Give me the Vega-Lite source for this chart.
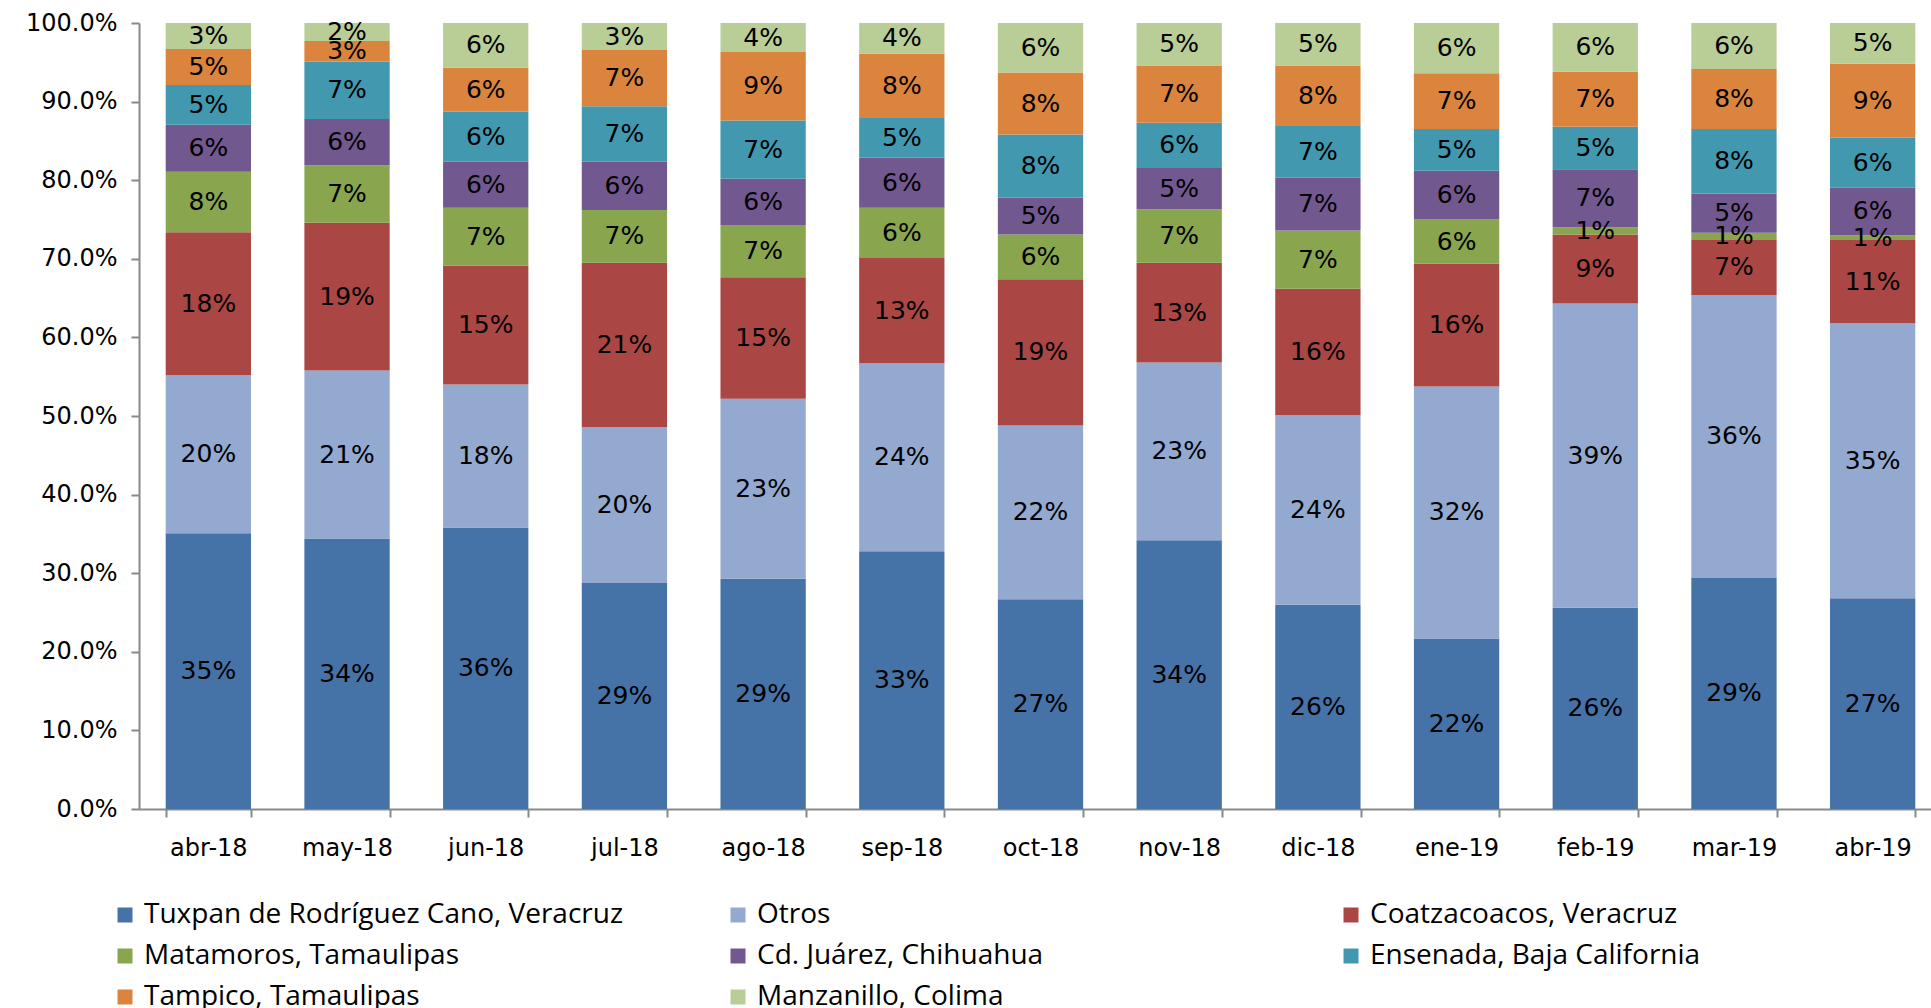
{
  "$schema": "https://vega.github.io/schema/vega-lite/v6.json",
  "width": 1792,
  "height": 786,
  "autosize": "none",
  "padding": {"left": 139, "top": 23, "right": 0, "bottom": 199},
  "background": "white",
  "config": {"view": {"stroke": null}, "font": "DejaVu Sans"},
  "datasets": {
    "series": [
      {"puerto": "Tuxpan de Rodríguez Cano, Veracruz", "orden": 1},
      {"puerto": "Otros", "orden": 2},
      {"puerto": "Coatzacoacos, Veracruz", "orden": 3},
      {"puerto": "Matamoros, Tamaulipas", "orden": 4},
      {"puerto": "Cd. Juárez, Chihuahua", "orden": 5},
      {"puerto": "Ensenada, Baja California", "orden": 6},
      {"puerto": "Tampico, Tamaulipas", "orden": 7},
      {"puerto": "Manzanillo, Colima", "orden": 8}
    ]
  },
  "data": {"values": [
    {"mes": "abr-18", "puerto": "Tuxpan de Rodríguez Cano, Veracruz", "v": 0.351},
    {"mes": "abr-18", "puerto": "Otros", "v": 0.201},
    {"mes": "abr-18", "puerto": "Coatzacoacos, Veracruz", "v": 0.182},
    {"mes": "abr-18", "puerto": "Matamoros, Tamaulipas", "v": 0.077},
    {"mes": "abr-18", "puerto": "Cd. Juárez, Chihuahua", "v": 0.060},
    {"mes": "abr-18", "puerto": "Ensenada, Baja California", "v": 0.0505},
    {"mes": "abr-18", "puerto": "Tampico, Tamaulipas", "v": 0.046},
    {"mes": "abr-18", "puerto": "Manzanillo, Colima", "v": 0.033},

    {"mes": "may-18", "puerto": "Tuxpan de Rodríguez Cano, Veracruz", "v": 0.344},
    {"mes": "may-18", "puerto": "Otros", "v": 0.214},
    {"mes": "may-18", "puerto": "Coatzacoacos, Veracruz", "v": 0.188},
    {"mes": "may-18", "puerto": "Matamoros, Tamaulipas", "v": 0.073},
    {"mes": "may-18", "puerto": "Cd. Juárez, Chihuahua", "v": 0.059},
    {"mes": "may-18", "puerto": "Ensenada, Baja California", "v": 0.073},
    {"mes": "may-18", "puerto": "Tampico, Tamaulipas", "v": 0.026},
    {"mes": "may-18", "puerto": "Manzanillo, Colima", "v": 0.023},

    {"mes": "jun-18", "puerto": "Tuxpan de Rodríguez Cano, Veracruz", "v": 0.358},
    {"mes": "jun-18", "puerto": "Otros", "v": 0.182},
    {"mes": "jun-18", "puerto": "Coatzacoacos, Veracruz", "v": 0.151},
    {"mes": "jun-18", "puerto": "Matamoros, Tamaulipas", "v": 0.074},
    {"mes": "jun-18", "puerto": "Cd. Juárez, Chihuahua", "v": 0.0585},
    {"mes": "jun-18", "puerto": "Ensenada, Baja California", "v": 0.064},
    {"mes": "jun-18", "puerto": "Tampico, Tamaulipas", "v": 0.0555},
    {"mes": "jun-18", "puerto": "Manzanillo, Colima", "v": 0.057},

    {"mes": "jul-18", "puerto": "Tuxpan de Rodríguez Cano, Veracruz", "v": 0.2875},
    {"mes": "jul-18", "puerto": "Otros", "v": 0.1985},
    {"mes": "jul-18", "puerto": "Coatzacoacos, Veracruz", "v": 0.209},
    {"mes": "jul-18", "puerto": "Matamoros, Tamaulipas", "v": 0.067},
    {"mes": "jul-18", "puerto": "Cd. Juárez, Chihuahua", "v": 0.0615},
    {"mes": "jul-18", "puerto": "Ensenada, Baja California", "v": 0.0705},
    {"mes": "jul-18", "puerto": "Tampico, Tamaulipas", "v": 0.0715},
    {"mes": "jul-18", "puerto": "Manzanillo, Colima", "v": 0.0345},

    {"mes": "ago-18", "puerto": "Tuxpan de Rodríguez Cano, Veracruz", "v": 0.293},
    {"mes": "ago-18", "puerto": "Otros", "v": 0.229},
    {"mes": "ago-18", "puerto": "Coatzacoacos, Veracruz", "v": 0.1545},
    {"mes": "ago-18", "puerto": "Matamoros, Tamaulipas", "v": 0.0665},
    {"mes": "ago-18", "puerto": "Cd. Juárez, Chihuahua", "v": 0.059},
    {"mes": "ago-18", "puerto": "Ensenada, Baja California", "v": 0.074},
    {"mes": "ago-18", "puerto": "Tampico, Tamaulipas", "v": 0.087},
    {"mes": "ago-18", "puerto": "Manzanillo, Colima", "v": 0.037},

    {"mes": "sep-18", "puerto": "Tuxpan de Rodríguez Cano, Veracruz", "v": 0.328},
    {"mes": "sep-18", "puerto": "Otros", "v": 0.239},
    {"mes": "sep-18", "puerto": "Coatzacoacos, Veracruz", "v": 0.134},
    {"mes": "sep-18", "puerto": "Matamoros, Tamaulipas", "v": 0.064},
    {"mes": "sep-18", "puerto": "Cd. Juárez, Chihuahua", "v": 0.064},
    {"mes": "sep-18", "puerto": "Ensenada, Baja California", "v": 0.050},
    {"mes": "sep-18", "puerto": "Tampico, Tamaulipas", "v": 0.082},
    {"mes": "sep-18", "puerto": "Manzanillo, Colima", "v": 0.039},

    {"mes": "oct-18", "puerto": "Tuxpan de Rodríguez Cano, Veracruz", "v": 0.267},
    {"mes": "oct-18", "puerto": "Otros", "v": 0.221},
    {"mes": "oct-18", "puerto": "Coatzacoacos, Veracruz", "v": 0.186},
    {"mes": "oct-18", "puerto": "Matamoros, Tamaulipas", "v": 0.057},
    {"mes": "oct-18", "puerto": "Cd. Juárez, Chihuahua", "v": 0.047},
    {"mes": "oct-18", "puerto": "Ensenada, Baja California", "v": 0.080},
    {"mes": "oct-18", "puerto": "Tampico, Tamaulipas", "v": 0.079},
    {"mes": "oct-18", "puerto": "Manzanillo, Colima", "v": 0.063},

    {"mes": "nov-18", "puerto": "Tuxpan de Rodríguez Cano, Veracruz", "v": 0.342},
    {"mes": "nov-18", "puerto": "Otros", "v": 0.226},
    {"mes": "nov-18", "puerto": "Coatzacoacos, Veracruz", "v": 0.127},
    {"mes": "nov-18", "puerto": "Matamoros, Tamaulipas", "v": 0.068},
    {"mes": "nov-18", "puerto": "Cd. Juárez, Chihuahua", "v": 0.0525},
    {"mes": "nov-18", "puerto": "Ensenada, Baja California", "v": 0.0575},
    {"mes": "nov-18", "puerto": "Tampico, Tamaulipas", "v": 0.073},
    {"mes": "nov-18", "puerto": "Manzanillo, Colima", "v": 0.054},

    {"mes": "dic-18", "puerto": "Tuxpan de Rodríguez Cano, Veracruz", "v": 0.260},
    {"mes": "dic-18", "puerto": "Otros", "v": 0.241},
    {"mes": "dic-18", "puerto": "Coatzacoacos, Veracruz", "v": 0.161},
    {"mes": "dic-18", "puerto": "Matamoros, Tamaulipas", "v": 0.074},
    {"mes": "dic-18", "puerto": "Cd. Juárez, Chihuahua", "v": 0.067},
    {"mes": "dic-18", "puerto": "Ensenada, Baja California", "v": 0.066},
    {"mes": "dic-18", "puerto": "Tampico, Tamaulipas", "v": 0.077},
    {"mes": "dic-18", "puerto": "Manzanillo, Colima", "v": 0.054},

    {"mes": "ene-19", "puerto": "Tuxpan de Rodríguez Cano, Veracruz", "v": 0.217},
    {"mes": "ene-19", "puerto": "Otros", "v": 0.3205},
    {"mes": "ene-19", "puerto": "Coatzacoacos, Veracruz", "v": 0.1565},
    {"mes": "ene-19", "puerto": "Matamoros, Tamaulipas", "v": 0.056},
    {"mes": "ene-19", "puerto": "Cd. Juárez, Chihuahua", "v": 0.062},
    {"mes": "ene-19", "puerto": "Ensenada, Baja California", "v": 0.053},
    {"mes": "ene-19", "puerto": "Tampico, Tamaulipas", "v": 0.071},
    {"mes": "ene-19", "puerto": "Manzanillo, Colima", "v": 0.064},

    {"mes": "feb-19", "puerto": "Tuxpan de Rodríguez Cano, Veracruz", "v": 0.256},
    {"mes": "feb-19", "puerto": "Otros", "v": 0.387},
    {"mes": "feb-19", "puerto": "Coatzacoacos, Veracruz", "v": 0.088},
    {"mes": "feb-19", "puerto": "Matamoros, Tamaulipas", "v": 0.009},
    {"mes": "feb-19", "puerto": "Cd. Juárez, Chihuahua", "v": 0.074},
    {"mes": "feb-19", "puerto": "Ensenada, Baja California", "v": 0.054},
    {"mes": "feb-19", "puerto": "Tampico, Tamaulipas", "v": 0.070},
    {"mes": "feb-19", "puerto": "Manzanillo, Colima", "v": 0.062},

    {"mes": "mar-19", "puerto": "Tuxpan de Rodríguez Cano, Veracruz", "v": 0.294},
    {"mes": "mar-19", "puerto": "Otros", "v": 0.360},
    {"mes": "mar-19", "puerto": "Coatzacoacos, Veracruz", "v": 0.070},
    {"mes": "mar-19", "puerto": "Matamoros, Tamaulipas", "v": 0.009},
    {"mes": "mar-19", "puerto": "Cd. Juárez, Chihuahua", "v": 0.050},
    {"mes": "mar-19", "puerto": "Ensenada, Baja California", "v": 0.082},
    {"mes": "mar-19", "puerto": "Tampico, Tamaulipas", "v": 0.0765},
    {"mes": "mar-19", "puerto": "Manzanillo, Colima", "v": 0.0585},

    {"mes": "abr-19", "puerto": "Tuxpan de Rodríguez Cano, Veracruz", "v": 0.268},
    {"mes": "abr-19", "puerto": "Otros", "v": 0.350},
    {"mes": "abr-19", "puerto": "Coatzacoacos, Veracruz", "v": 0.106},
    {"mes": "abr-19", "puerto": "Matamoros, Tamaulipas", "v": 0.006},
    {"mes": "abr-19", "puerto": "Cd. Juárez, Chihuahua", "v": 0.0605},
    {"mes": "abr-19", "puerto": "Ensenada, Baja California", "v": 0.0635},
    {"mes": "abr-19", "puerto": "Tampico, Tamaulipas", "v": 0.094},
    {"mes": "abr-19", "puerto": "Manzanillo, Colima", "v": 0.052}
  ]},
  "transform": [
    {"lookup": "puerto", "from": {"data": {"name": "series"}, "key": "puerto", "fields": ["orden"]}}
  ],
  "encoding": {
    "x": {
      "field": "mes", "type": "nominal",
      "sort": ["abr-18","may-18","jun-18","jul-18","ago-18","sep-18","oct-18","nov-18","dic-18","ene-19","feb-19","mar-19","abr-19"],
      "scale": {"paddingInner": 0.385, "paddingOuter": 0.1925, "range": [0, 1803]},
      "axis": {
        "title": null, "labelAngle": 0, "labelFontSize": 24, "labelColor": "#000000",
        "labelPadding": 19, "tickBand": "extent", "tickSize": 8, "tickColor": "#898989", "tickWidth": 2,
        "domainColor": "#898989", "domainWidth": 2, "grid": false
      }
    },
    "y": {
      "field": "v", "type": "quantitative", "stack": "normalize",
      "scale": {"domain": [0, 1]},
      "axis": {
        "title": null, "values": [0,0.1,0.2,0.3,0.4,0.5,0.6,0.7,0.8,0.9,1.0],
        "labelExpr": "format(datum.value, '.1%')",
        "labelFontSize": 24, "labelColor": "#000000", "labelPadding": 14,
        "tickSize": 8, "tickColor": "#898989", "tickWidth": 2,
        "domainColor": "#898989", "domainWidth": 2, "grid": false
      }
    },
    "order": {"field": "orden", "type": "quantitative", "sort": "ascending"}
  },
  "layer": [
    {
      "mark": {"type": "bar"},
      "encoding": {
        "color": {
          "field": "puerto", "type": "nominal",
          "sort": ["Tuxpan de Rodríguez Cano, Veracruz","Otros","Coatzacoacos, Veracruz","Matamoros, Tamaulipas","Cd. Juárez, Chihuahua","Ensenada, Baja California","Tampico, Tamaulipas","Manzanillo, Colima"],
          "scale": {
            "domain": ["Tuxpan de Rodríguez Cano, Veracruz","Otros","Coatzacoacos, Veracruz","Matamoros, Tamaulipas","Cd. Juárez, Chihuahua","Ensenada, Baja California","Tampico, Tamaulipas","Manzanillo, Colima"],
            "range": ["#4572A7","#93A9CF","#AA4643","#89A54E","#71588F","#4198AF","#DB843D","#B9CD96"]
          },
          "legend": {
            "title": null, "orient": "none", "legendX": -28, "legendY": 878,
            "direction": "horizontal", "columns": 3, "gridAlign": "all",
            "columnPadding": 100, "rowPadding": 13, "padding": 0,
            "symbolType": "square", "symbolSize": 225, "symbolStrokeWidth": 0,
            "labelFont": "Open Sans", "labelFontSize": 28, "labelColor": "#000000", "labelOffset": 5, "labelLimit": 0
          }
        }
      }
    },
    {
      "mark": {"type": "text", "fontSize": 25, "font": "DejaVu Sans", "color": "#000000"},
      "encoding": {
        "y": {"field": "v", "type": "quantitative", "stack": "normalize", "bandPosition": 0.5},
        "text": {"field": "v", "type": "quantitative", "format": ".0%"},
        "detail": {"field": "puerto", "type": "nominal"}
      }
    }
  ]
}
